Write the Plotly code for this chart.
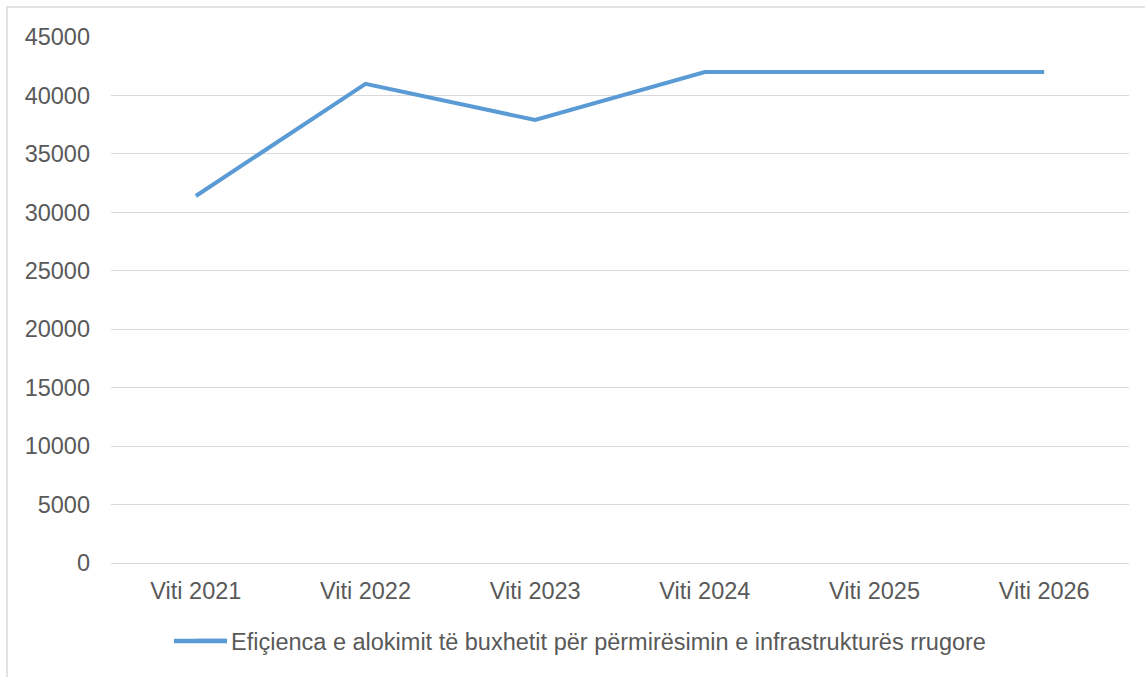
import plotly.graph_objects as go

categories = ["Viti 2021", "Viti 2022", "Viti 2023", "Viti 2024", "Viti 2025", "Viti 2026"]
values = [31400, 41000, 37900, 42000, 42000, 42000]
series_name = "Efiçienca e alokimit të buxhetit për përmirësimin e infrastrukturës rrugore"
y_ticks = [0, 5000, 10000, 15000, 20000, 25000, 30000, 35000, 40000, 45000]

W, H = 1145, 677
L, R, T, B = 111, 16, 37, 114
pw, ph = W - L - R, H - T - B

def px_x(p):
    return (p - L) / pw

def px_y(p):
    return (H - B - p) / ph

color = "#5b9bd5"
fig = go.Figure()
fig.add_trace(go.Scatter(
    x=categories, y=values, mode="lines", name=series_name,
    line=dict(color=color, width=4),
))

font = dict(family="Liberation Sans, Arial, sans-serif", size=23.5, color="#595959")

fig.update_layout(
    width=W, height=H,
    margin=dict(l=L, r=R, t=T, b=B, autoexpand=False),
    paper_bgcolor="white", plot_bgcolor="white",
    font=font,
    showlegend=True,
    legend=dict(orientation="h", x=px_x(191), y=px_y(641), xanchor="left", yanchor="middle",
                font=font, bgcolor="rgba(0,0,0,0)", borderwidth=0),
    xaxis=dict(showgrid=False, showline=False, ticks="", tickfont=font,
               range=[-0.5, 5.5], ticklabelstandoff=11),
    yaxis=dict(range=[0, 45000], tickvals=y_ticks, tickformat="d", showgrid=True,
               gridcolor="#d9d9d9", gridwidth=1.3, zeroline=True, zerolinecolor="#d9d9d9",
               zerolinewidth=1.3, showline=False, ticks="", tickfont=font,
               ticklabelstandoff=20),
    shapes=[
        dict(type="rect", xref="paper", yref="paper",
             x0=px_x(7), x1=px_x(1170), y0=px_y(700), y1=px_y(7),
             line=dict(color="#d9d9d9", width=1.5), fillcolor="rgba(0,0,0,0)",
             layer="below"),
        # extends the legend line sample to the reference length
        dict(type="line", xref="paper", yref="paper",
             x0=px_x(174), x1=px_x(227), y0=px_y(641), y1=px_y(641),
             line=dict(color=color, width=4.5)),
    ],
)

fig.write_html("out.html", config={"displayModeBar": False},
               post_script="document.body.style.margin='0';")
